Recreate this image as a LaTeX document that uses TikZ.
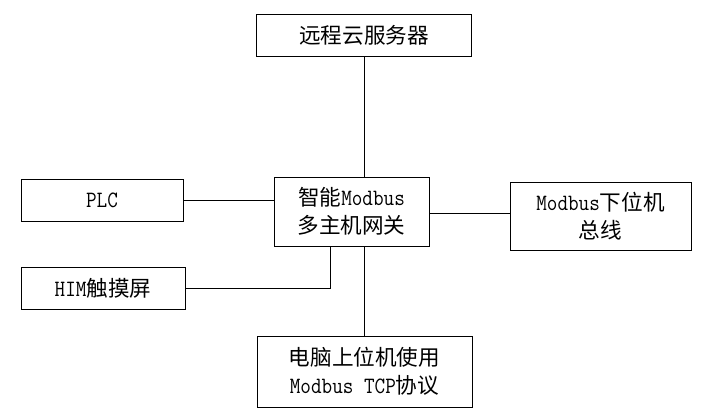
\documentclass[tikz,border=0pt]{standalone}
\usepackage{fontspec}
\setmainfont{Latin Modern Mono}[Scale=1.3,FakeStretch=0.88]
\newfontfamily\cjk{Noto Sans CJK SC}[Scale=1.2]
\begin{document}
\begin{tikzpicture}[x=1pt,y=-1pt,
  box/.style={draw, line width=0.9pt, inner sep=0pt, align=center,
    font={\fontsize{18}{27.5}\selectfont}},
  conn/.style={line width=0.9pt}]
\useasboundingbox[fill=white] (0,0) rectangle (701,418);
\node[box, minimum width=215, minimum height=42] (top) at (364,35) {{\cjk 远程云服务器}};
\node[box, minimum width=155, minimum height=69] (gw) at (351.5,211.5) {{\cjk 智能}Modbus\\{\cjk 多主机网关}};
\node[box, minimum width=162, minimum height=42] (plc) at (102,200) {PLC};
\node[box, minimum width=164, minimum height=42] (him) at (103,288) {HIM{\cjk 触摸屏}};
\node[box, minimum width=181, minimum height=68] (bus) at (600.5,216) {Modbus{\cjk 下位机}\\{\cjk 总线}};
\node[box, minimum width=215, minimum height=71] (pc) at (364.5,371.5) {{\cjk 电脑上位机使用}\\Modbus TCP{\cjk 协议}};
\draw[conn] (top.south) -- (top.south |- gw.north);
\draw[conn] (plc.east) -- (plc.east -| gw.west);
\draw[conn] ([yshift=-2pt]gw.east) -- ([yshift=-2pt]gw.east -| bus.west);
\draw[conn] (him.east) -| ([xshift=-21.5pt]gw.south);
\draw[conn] (pc.north |- gw.south) -- (pc.north);
\end{tikzpicture}
\end{document}
